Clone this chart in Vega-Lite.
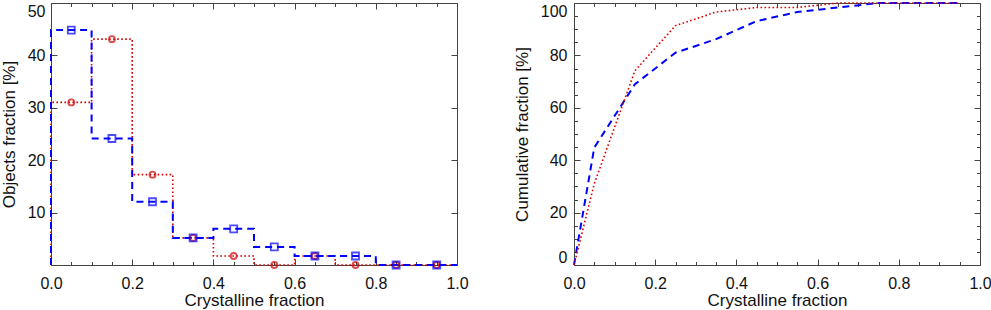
{
  "$schema": "https://vega.github.io/schema/vega-lite/v6.json",
  "background": "white",
  "padding": {"left": -1, "top": -2, "right": 5, "bottom": 0},
  "spacing": 117,
  "bounds": "flush",
  "config": {
    "font": "Liberation Sans",
    "view": {"stroke": "#444", "strokeWidth": 1},
    "axis": {"grid": false, "domain": false, "tickColor": "#444", "tickWidth": 1, "labelColor": "#111", "titleColor": "#111", "labelFontSize": 16, "titleFontSize": 17, "titleFontWeight": "normal", "labelFont": "Liberation Sans", "titleFont": "Liberation Sans", "labelOverlap": false}
  },
  "datasets": {
    "outline": [
      {"series": "A", "i": 0, "x": 0, "pct": 0},
      {"series": "A", "i": 1, "x": 0, "pct": 44.83},
      {"series": "A", "i": 2, "x": 0.1, "pct": 24.14},
      {"series": "A", "i": 3, "x": 0.2, "pct": 12.07},
      {"series": "A", "i": 4, "x": 0.3, "pct": 5.17},
      {"series": "A", "i": 5, "x": 0.4, "pct": 6.9},
      {"series": "A", "i": 6, "x": 0.5, "pct": 3.45},
      {"series": "A", "i": 7, "x": 0.6, "pct": 1.72},
      {"series": "A", "i": 8, "x": 0.7, "pct": 1.72},
      {"series": "A", "i": 9, "x": 0.8, "pct": 0},
      {"series": "A", "i": 10, "x": 0.9, "pct": 0},
      {"series": "A", "i": 11, "x": 1.0, "pct": 0},
      {"series": "B", "i": 0, "x": 0, "pct": 0},
      {"series": "B", "i": 1, "x": 0, "pct": 31.03},
      {"series": "B", "i": 2, "x": 0.1, "pct": 43.1},
      {"series": "B", "i": 3, "x": 0.2, "pct": 17.24},
      {"series": "B", "i": 4, "x": 0.3, "pct": 5.17},
      {"series": "B", "i": 5, "x": 0.4, "pct": 1.72},
      {"series": "B", "i": 6, "x": 0.5, "pct": 0},
      {"series": "B", "i": 7, "x": 0.6, "pct": 1.72},
      {"series": "B", "i": 8, "x": 0.7, "pct": 0},
      {"series": "B", "i": 9, "x": 0.8, "pct": 0},
      {"series": "B", "i": 10, "x": 0.9, "pct": 0},
      {"series": "B", "i": 11, "x": 1.0, "pct": 0}
    ],
    "bins": [
      {"series": "A", "x": 0.05, "pct": 44.83},
      {"series": "A", "x": 0.15, "pct": 24.14},
      {"series": "A", "x": 0.25, "pct": 12.07},
      {"series": "A", "x": 0.35, "pct": 5.17},
      {"series": "A", "x": 0.45, "pct": 6.9},
      {"series": "A", "x": 0.55, "pct": 3.45},
      {"series": "A", "x": 0.65, "pct": 1.72},
      {"series": "A", "x": 0.75, "pct": 1.72},
      {"series": "A", "x": 0.85, "pct": 0},
      {"series": "A", "x": 0.95, "pct": 0},
      {"series": "B", "x": 0.05, "pct": 31.03},
      {"series": "B", "x": 0.15, "pct": 43.1},
      {"series": "B", "x": 0.25, "pct": 17.24},
      {"series": "B", "x": 0.35, "pct": 5.17},
      {"series": "B", "x": 0.45, "pct": 1.72},
      {"series": "B", "x": 0.55, "pct": 0},
      {"series": "B", "x": 0.65, "pct": 1.72},
      {"series": "B", "x": 0.75, "pct": 0},
      {"series": "B", "x": 0.85, "pct": 0},
      {"series": "B", "x": 0.95, "pct": 0}
    ],
    "cumulative": [
      {"series": "A", "x": 0, "cum": 0},
      {"series": "A", "x": 0.05, "cum": 44.83},
      {"series": "A", "x": 0.15, "cum": 68.97},
      {"series": "A", "x": 0.25, "cum": 81.03},
      {"series": "A", "x": 0.35, "cum": 86.21},
      {"series": "A", "x": 0.45, "cum": 93.1},
      {"series": "A", "x": 0.55, "cum": 96.55},
      {"series": "A", "x": 0.65, "cum": 98.28},
      {"series": "A", "x": 0.75, "cum": 100},
      {"series": "A", "x": 0.85, "cum": 100},
      {"series": "A", "x": 0.95, "cum": 100},
      {"series": "B", "x": 0, "cum": 0},
      {"series": "B", "x": 0.05, "cum": 31.03},
      {"series": "B", "x": 0.15, "cum": 74.14},
      {"series": "B", "x": 0.25, "cum": 91.38},
      {"series": "B", "x": 0.35, "cum": 96.55},
      {"series": "B", "x": 0.45, "cum": 98.28},
      {"series": "B", "x": 0.55, "cum": 98.28},
      {"series": "B", "x": 0.65, "cum": 100},
      {"series": "B", "x": 0.75, "cum": 100},
      {"series": "B", "x": 0.85, "cum": 100},
      {"series": "B", "x": 0.95, "cum": 100}
    ]
  },
  "hconcat": [
    {
      "width": 406,
      "height": 262,
      "resolve": {"axis": {"x": "independent", "y": "independent"}},
      "layer": [
        {
          "data": {"name": "outline"},
          "transform": [{"filter": "datum.series == 'B'"}],
          "mark": {"type": "line", "interpolate": "step-after", "color": "#dd0000", "strokeWidth": 1.6, "strokeDash": [1.6, 2.4]},
          "encoding": {
            "x": {"field": "x", "type": "quantitative", "scale": {"domain": [0, 1], "nice": false},
              "axis": {"orient": "bottom", "values": [0, 0.2, 0.4, 0.6, 0.8, 1], "format": ".1f", "tickSize": -6,
                "labelPadding": 16, "labelFlush": false, "title": "Crystalline fraction", "titleBaseline": "alphabetic", "titleY": 40}},
            "y": {"field": "pct", "type": "quantitative", "scale": {"domain": [0, 50], "nice": false},
              "axis": {"orient": "left", "values": [0, 10, 20, 30, 40, 50], "tickSize": -6, "labelExpr": "datum.value == 0 ? '' : datum.label",
                "labelPadding": 12, "labelFlush": true, "title": "Objects fraction [%]", "titleBaseline": "alphabetic", "titleX": -36.7, "titleAngle": -90}},
            "order": {"field": "i", "type": "quantitative"}
          }
        },
        {
          "data": {"name": "outline"},
          "transform": [{"filter": "datum.series == 'A'"}],
          "mark": {"type": "line", "interpolate": "step-after", "color": "#0000ff", "strokeWidth": 2, "strokeDash": [7, 5]},
          "encoding": {
            "x": {"field": "x", "type": "quantitative",
              "axis": {"orient": "bottom", "values": [0.05, 0.1, 0.15, 0.25, 0.3, 0.35, 0.45, 0.5, 0.55, 0.65, 0.7, 0.75, 0.85, 0.9, 0.95], "tickSize": -3.5, "labels": false, "title": null}},
            "y": {"field": "pct", "type": "quantitative",
              "axis": {"orient": "right", "values": [0, 10, 20, 30, 40, 50], "tickSize": -6, "labels": false, "title": null}},
            "order": {"field": "i", "type": "quantitative"}
          }
        },
        {
          "data": {"name": "bins"},
          "transform": [{"filter": "datum.series == 'B'"}],
          "mark": {"type": "point", "shape": "circle", "filled": false, "size": 36, "strokeWidth": 1.8, "color": "#cc0000"},
          "encoding": {
            "x": {"field": "x", "type": "quantitative",
              "axis": {"orient": "top", "values": [0, 0.2, 0.4, 0.6, 0.8, 1], "tickSize": -6, "labels": false, "title": null}},
            "y": {"field": "pct", "type": "quantitative", "axis": null}
          }
        },
        {
          "data": {"name": "bins"},
          "transform": [{"filter": "datum.series == 'A'"}],
          "mark": {"type": "point", "shape": "square", "filled": false, "size": 49, "strokeWidth": 1.8, "color": "#0000ff"},
          "encoding": {
            "x": {"field": "x", "type": "quantitative",
              "axis": {"orient": "top", "values": [0.05, 0.1, 0.15, 0.25, 0.3, 0.35, 0.45, 0.5, 0.55, 0.65, 0.7, 0.75, 0.85, 0.9, 0.95], "tickSize": -3.5, "labels": false, "title": null}},
            "y": {"field": "pct", "type": "quantitative", "axis": null}
          }
        }
      ]
    },
    {
      "width": 406,
      "height": 262,
      "resolve": {"axis": {"x": "independent", "y": "independent"}},
      "layer": [
        {
          "data": {"name": "cumulative"},
          "transform": [{"filter": "datum.series == 'A'"}],
          "mark": {"type": "line", "color": "#0000ff", "strokeWidth": 2, "strokeDash": [7, 5]},
          "encoding": {
            "x": {"field": "x", "type": "quantitative", "scale": {"domain": [0, 1], "nice": false},
              "axis": {"orient": "bottom", "values": [0, 0.2, 0.4, 0.6, 0.8, 1], "format": ".1f", "tickSize": -6,
                "labelPadding": 16, "labelFlush": false, "title": "Crystalline fraction", "titleBaseline": "alphabetic", "titleY": 40}},
            "y": {"field": "cum", "type": "quantitative", "scale": {"domain": [0, 100], "nice": false},
              "axis": {"orient": "left", "values": [0, 20, 40, 60, 80, 100], "tickSize": -6,
                "labelPadding": 13, "labelFlush": true, "title": "Cumulative fraction [%]", "titleBaseline": "alphabetic", "titleX": -46.6, "titleAngle": -90}}
          }
        },
        {
          "data": {"name": "cumulative"},
          "transform": [{"filter": "datum.series == 'A'"}],
          "mark": {"type": "line", "opacity": 0},
          "encoding": {
            "x": {"field": "x", "type": "quantitative",
              "axis": {"orient": "bottom", "values": [0.05, 0.1, 0.15, 0.25, 0.3, 0.35, 0.45, 0.5, 0.55, 0.65, 0.7, 0.75, 0.85, 0.9, 0.95], "tickSize": -3.5, "labels": false, "title": null}},
            "y": {"field": "cum", "type": "quantitative",
              "axis": {"orient": "left", "values": [5, 10, 15, 25, 30, 35, 45, 50, 55, 65, 70, 75, 85, 90, 95], "tickSize": -3.5, "labels": false, "title": null}}
          }
        },
        {
          "data": {"name": "cumulative"},
          "transform": [{"filter": "datum.series == 'B'"}],
          "mark": {"type": "line", "opacity": 0},
          "encoding": {
            "x": {"field": "x", "type": "quantitative",
              "axis": {"orient": "top", "values": [0.05, 0.1, 0.15, 0.25, 0.3, 0.35, 0.45, 0.5, 0.55, 0.65, 0.7, 0.75, 0.85, 0.9, 0.95], "tickSize": -3.5, "labels": false, "title": null}},
            "y": {"field": "cum", "type": "quantitative",
              "axis": {"orient": "right", "values": [5, 10, 15, 25, 30, 35, 45, 50, 55, 65, 70, 75, 85, 90, 95], "tickSize": -3.5, "labels": false, "title": null}}
          }
        },
        {
          "data": {"name": "cumulative"},
          "transform": [{"filter": "datum.series == 'B'"}],
          "mark": {"type": "line", "color": "#dd0000", "strokeWidth": 1.6, "strokeDash": [1.6, 2.4]},
          "encoding": {
            "x": {"field": "x", "type": "quantitative",
              "axis": {"orient": "top", "values": [0, 0.2, 0.4, 0.6, 0.8, 1], "tickSize": -6, "labels": false, "title": null}},
            "y": {"field": "cum", "type": "quantitative",
              "axis": {"orient": "right", "values": [0, 20, 40, 60, 80, 100], "tickSize": -6, "labels": false, "title": null}}
          }
        }
      ]
    }
  ]
}
